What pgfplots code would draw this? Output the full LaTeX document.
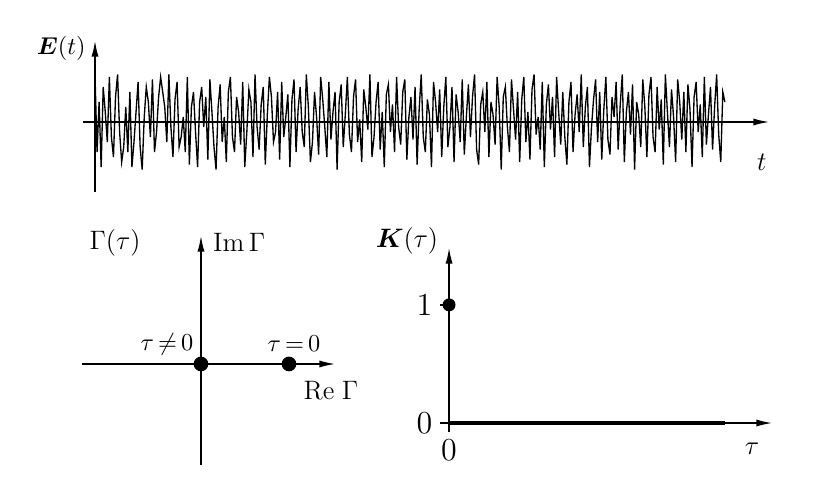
\documentclass[border=0pt]{standalone}
\usepackage{pgfplots}
\pgfplotsset{compat=1.18}
\usepackage{bm}
\usetikzlibrary{arrows.meta}
\newcommand\fsA{\fontsize{12}{14}\selectfont}
\newcommand\fsB{\fontsize{12.5}{14}\selectfont}
\newcommand\fsC{\fontsize{13}{15}\selectfont}
\newcommand\fsD{\fontsize{14}{16}\selectfont}
\begin{document}
\begin{tikzpicture}[font=\fontsize{11}{13}\selectfont]
\useasboundingbox (0,0) rectangle (367.2pt,219.6pt);
\pgfplotsset{
  myaxis/.style={
    axis lines=middle, scale only axis, anchor=south west, clip=false,
    axis line style={line width=0.9pt},
    every inner x axis line/.append style={-{Latex[length=7.5pt,width=3.2pt]}},
    every inner y axis line/.append style={-{Latex[length=7.5pt,width=3.2pt]}},
    xtick=\empty, ytick=\empty,
  }
}
% ---------- top: E(t) ----------
\begin{axis}[myaxis,
  at={({83*0.45pt},{(488-192)*0.45pt})},
  width={687*0.45pt}, height={152*0.45pt},
  xmin=-5.85, xmax=329, ymin=-1.4, ymax=1.64]
\addplot[black, line width=0.6pt, mark=none] table[row sep=\\, header=false, x expr=\coordindex, y index=0] {
0.95\\ -0.6\\ 0.4\\ -0.9\\ 0.7\\ 0.2\\ -0.4\\ 0.9\\ -0.3\\ -0.7\\
0.5\\ 0.95\\ -0.2\\ -0.8\\ -0.5\\ 0.3\\ -0.6\\ 0.6\\ -0.9\\ -0.4\\
0.2\\ 0.8\\ -0.5\\ -0.95\\ 0.1\\ 0.7\\ 0.4\\ -0.3\\ 0.85\\ -0.6\\
-0.2\\ 0.5\\ 0.9\\ 0.6\\ 0.3\\ -0.4\\ 0.95\\ -0.1\\ -0.7\\ 0.45\\
0.8\\ -0.5\\ -0.3\\ 0.1\\ -0.6\\ 0.9\\ -0.85\\ 0.3\\ 0.6\\ -0.2\\
-0.9\\ 0.4\\ 0.7\\ -0.1\\ 0.5\\ -0.75\\ 0.85\\ 0.2\\ -0.5\\ -0.95\\
0.3\\ 0.75\\ -0.4\\ 0.1\\ -0.8\\ 0.6\\ 0.9\\ -0.3\\ -0.6\\ 0.5\\
0.2\\ -0.45\\ 0.8\\ -0.9\\ -0.2\\ 0.65\\ 0.4\\ -0.7\\ 0.95\\ -0.1\\
-0.55\\ 0.35\\ 0.7\\ -0.85\\ 0.15\\ 0.9\\ 0.5\\ -0.4\\ -0.2\\ 0.6\\
-0.75\\ 0.8\\ -0.3\\ 0.1\\ 0.55\\ -0.9\\ 0.45\\ 0.85\\ -0.6\\ 0.25\\
0.7\\ -0.2\\ -0.5\\ 0.95\\ 0.3\\ -0.8\\ -0.4\\ 0.6\\ 0.1\\ -0.65\\
0.9\\ 0.45\\ -0.1\\ -0.7\\ 0.8\\ -0.35\\ 0.2\\ 0.6\\ -0.95\\ 0.4\\
0.75\\ -0.5\\ 0.15\\ 0.9\\ -0.25\\ -0.6\\ 0.5\\ 0.85\\ -0.4\\ 0.05\\
-0.8\\ 0.65\\ 0.3\\ -0.15\\ 0.95\\ -0.7\\ -0.3\\ 0.4\\ 0.8\\ -0.55\\
0.2\\ -0.9\\ 0.55\\ 0.75\\ -0.2\\ 0.35\\ -0.6\\ 0.9\\ -0.1\\ -0.45\\
0.6\\ 0.85\\ -0.75\\ 0.1\\ 0.5\\ -0.35\\ 0.7\\ -0.85\\ 0.25\\ 0.95\\
-0.3\\ -0.6\\ 0.45\\ 0.15\\ -0.9\\ 0.8\\ 0.4\\ -0.2\\ 0.65\\ -0.7\\
0.3\\ 0.9\\ -0.5\\ -0.1\\ 0.7\\ -0.8\\ 0.55\\ 0.2\\ -0.4\\ 0.85\\
-0.65\\ 0.1\\ 0.75\\ -0.3\\ 0.5\\ 0.95\\ -0.55\\ -0.85\\ 0.35\\ 0.6\\
-0.2\\ 0.8\\ -0.7\\ 0.4\\ 0.15\\ -0.45\\ 0.9\\ 0.3\\ -0.95\\ 0.5\\
0.7\\ -0.1\\ -0.6\\ 0.85\\ 0.25\\ -0.35\\ 0.6\\ -0.8\\ 0.45\\ 0.9\\
-0.4\\ 0.2\\ -0.75\\ 0.65\\ 0.95\\ -0.25\\ 0.1\\ -0.55\\ 0.8\\ -0.9\\
0.35\\ 0.75\\ -0.15\\ 0.5\\ -0.7\\ 0.9\\ 0.2\\ -0.45\\ 0.6\\ -0.3\\
-0.85\\ 0.4\\ 0.8\\ -0.6\\ 0.15\\ 0.55\\ -0.2\\ 0.95\\ -0.5\\ 0.3\\
0.7\\ -0.9\\ -0.1\\ 0.45\\ 0.85\\ -0.4\\ 0.6\\ -0.75\\ 0.25\\ 0.9\\
-0.35\\ -0.65\\ 0.5\\ 0.1\\ 0.8\\ -0.55\\ 0.35\\ 0.95\\ -0.8\\ 0.2\\
0.6\\ -0.25\\ 0.75\\ -0.95\\ 0.4\\ 0.15\\ -0.5\\ 0.85\\ 0.3\\ -0.7\\
0.55\\ 0.9\\ -0.3\\ -0.6\\ 0.7\\ -0.15\\ 0.45\\ -0.85\\ 0.95\\ 0.2\\
-0.5\\ 0.65\\ 0.1\\ -0.8\\ 0.85\\ 0.4\\ -0.35\\ 0.6\\ -0.6\\ 0.75\\
0.25\\ -0.9\\ 0.5\\ 0.8\\ -0.2\\ 0.35\\ -0.7\\ 0.9\\ -0.45\\ 0.15\\
0.7\\ -0.55\\ 0.3\\ 0.95\\ -0.25\\ -0.8\\ 0.6\\ 0.4\\
};
\node at (axis cs:-16.5,1.48) {$\bm{E}(t)$};
\node[font=\fsC] at (axis cs:325,-0.8) {$t$};
\end{axis}
% ---------- bottom left: Gamma ----------
\begin{axis}[myaxis,
  at={({82*0.45pt},{(488-465)*0.45pt})},
  width={254*0.45pt}, height={230*0.45pt},
  xmin=-1.352, xmax=1.534, ymin=-1.148, ymax=1.466]
\addplot[only marks, mark=*, mark size=3.1pt, black] coordinates {(0,0) (1,0)};
\node[font=\fsA] at (axis cs:-0.977,1.375) {$\Gamma(\tau)$};
\node[anchor=west, font=\fsB] at (axis cs:0.05,1.386) {$\mathrm{Im}\,\Gamma$};
\node at (axis cs:-0.386,0.227) {$\tau\,{\neq}\,0$};
\node at (axis cs:1.057,0.227) {$\tau\,{=}\,0$};
\node[font=\fsB] at (axis cs:1.477,-0.295) {$\mathrm{Re}\;\Gamma$};
\end{axis}
% ---------- bottom right: K ----------
\begin{axis}[myaxis,
  at={({440*0.45pt},{(488-432)*0.45pt})},
  width={333*0.45pt}, height={185*0.45pt},
  xmin=-0.028, xmax=1, ymin=-0.076, ymax=1.49,
  xtick={0}, ytick={0,1},
  xticklabel style={font=\fsD},
  yticklabel style={font=\fsD},
  hide obscured x ticks=false, hide obscured y ticks=false,
  tick align=outside, major tick length=4pt,
  tick style={black, line width=0.9pt}]
\addplot[black, line width=1.4pt] coordinates {(0,0) (0.852,0)};
\addplot[only marks, mark=*, mark size=2.7pt, black] coordinates {(0,1)};
\node[font=\fsA] at (axis cs:-0.13,1.54) {$\bm{K}(\tau)$};
\node[font=\fsC] at (axis cs:0.935,-0.22) {$\tau$};
\end{axis}
\end{tikzpicture}
\end{document}
